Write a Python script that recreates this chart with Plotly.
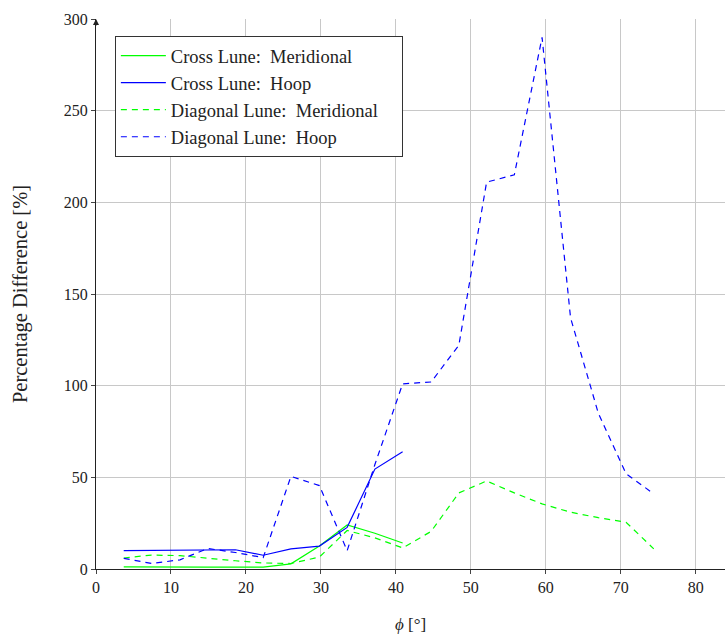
import plotly.graph_objects as go

phi = [3.7, 7.4, 11.2, 14.9, 18.6, 22.3, 26.0, 29.8, 33.5, 37.2,
       40.9, 44.7, 48.4, 52.1, 55.8, 59.5, 63.3, 67.0, 70.7, 74.4]

cross_meridional = [1.2, 1.0, 1.0, 1.0, 1.0, 1.0, 2.8, 12.5, 24.0, 19.5, 14.2]
cross_hoop = [10.0, 10.2, 10.3, 10.3, 10.5, 7.5, 11.0, 12.5, 22.7, 54.5, 64.0]
diag_meridional = [6.0, 7.6, 7.3, 5.8, 4.5, 3.3, 3.0, 6.5, 21.0, 17.0,
                   11.5, 20.5, 41.5, 48.0, 41.5, 35.5, 31.0, 28.0, 25.5, 11.0]
diag_hoop = [5.8, 3.0, 5.0, 11.2, 9.0, 6.2, 50.5, 45.5, 10.0, 57.0,
             101.0, 102.0, 122.0, 211.0, 215.0, 290.0, 137.0, 85.0, 52.0, 41.0]

series_names = ["Cross Lune:\u2002Meridional", "Cross Lune:\u2002Hoop",
                "Diagonal Lune:\u2002Meridional\u2003", "Diagonal Lune:\u2002Hoop"]

GREEN = "#00ff00"
BLUE = "#0000ff"
DASH = "6px,5px"

fig = go.Figure()
fig.add_trace(go.Scatter(x=phi[:len(cross_meridional)], y=cross_meridional, mode="lines",
                         name=series_names[0], line=dict(color=GREEN, width=1.2)))
fig.add_trace(go.Scatter(x=phi[:len(cross_hoop)], y=cross_hoop, mode="lines",
                         name=series_names[1], line=dict(color=BLUE, width=1.2)))
fig.add_trace(go.Scatter(x=phi, y=diag_meridional, mode="lines",
                         name=series_names[2], line=dict(color=GREEN, width=1.2, dash=DASH)))
fig.add_trace(go.Scatter(x=phi, y=diag_hoop, mode="lines",
                         name=series_names[3], line=dict(color=BLUE, width=1.2, dash=DASH)))

FONT = "Liberation Serif"

fig.update_layout(
    width=725, height=634,
    margin=dict(l=96, r=0, t=19, b=65),
    plot_bgcolor="white", paper_bgcolor="white",
    font=dict(family=FONT, size=16, color="#222"),
    showlegend=True,
    legend=dict(x=0.03, y=0.969, xanchor="left", yanchor="top",
                bordercolor="#333", borderwidth=1, bgcolor="white",
                font=dict(family=FONT, size=18.5, color="#222"),
                tracegroupgap=2, itemwidth=45),
    xaxis=dict(range=[0, 83.9], tickvals=list(range(0, 90, 10)),
               showgrid=True, gridcolor="#c8c8c8", gridwidth=1,
               showline=True, linecolor="#222", linewidth=1.2,
               ticks="outside", ticklen=4, tickcolor="#444",
               zeroline=False,
               title=dict(text="<i>ϕ</i> [°]", font=dict(family=FONT, size=17), standoff=24)),
    yaxis=dict(range=[0, 300], tickvals=list(range(0, 350, 50)),
               showgrid=True, gridcolor="#c8c8c8", gridwidth=1,
               showline=True, linecolor="#222", linewidth=1.2,
               ticks="outside", ticklen=4, tickcolor="#444",
               zeroline=False,
               title=dict(text="Percentage Difference [%]", font=dict(family=FONT, size=20.5), standoff=30)),
)

fig.add_annotation(x=0, y=300, xref="x", yref="y", ax=0, ay=8, axref="pixel", ayref="pixel",
                   showarrow=True, arrowhead=2, arrowsize=1, arrowwidth=1.2, arrowcolor="#222",
                   text="")

fig.write_html("out.html")
